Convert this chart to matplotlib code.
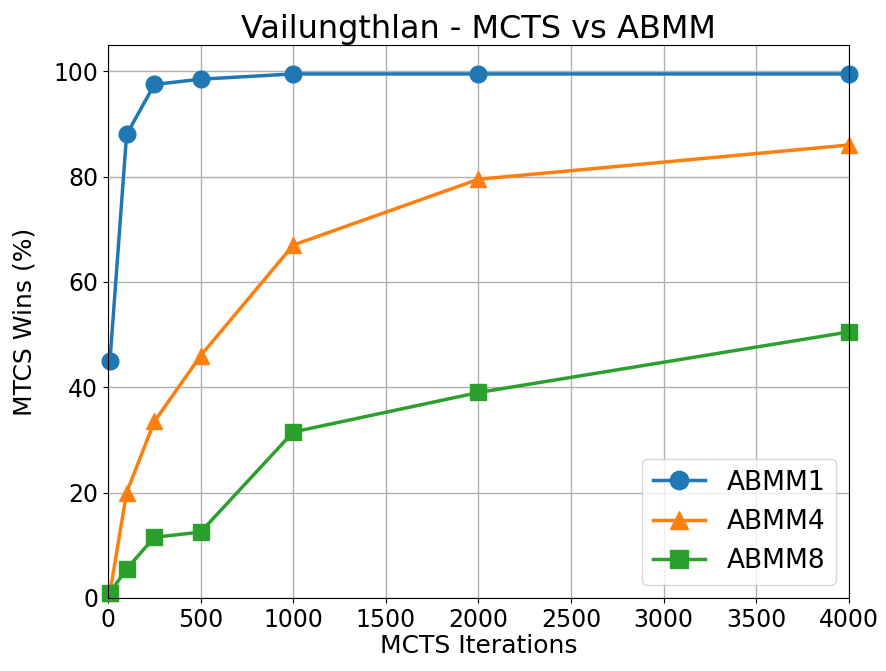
import numpy as np
from matplotlib import pyplot as plt

iterations = [10, 100, 250, 500, 1000, 2000, 4000]
abmm1 = [45, 88, 97.5, 98.5, 99.5, 99.5, 99.5]
abmm4 = [1, 20, 33.5, 46, 67, 79.5, 86]
abmm8 = [1, 5.5, 11.5, 12.5, 31.5, 39, 50.5]

fig = plt.figure(figsize=(8.86, 6.71), dpi=100)
ax = fig.add_axes([0.122, 0.109, 0.836, 0.824])

ax.plot(iterations, abmm1, "-o", lw=2.5, ms=12, label="ABMM1", clip_on=False)
ax.plot(iterations, abmm4, "-^", lw=2.5, ms=12, label="ABMM4", clip_on=False)
ax.plot(iterations, abmm8, "-s", lw=2.5, ms=12, label="ABMM8", clip_on=False)

ax.set_xlim(0, 4000)
ax.set_ylim(0, 105)
ax.set_xticks(np.arange(0, 4001, 500))
ax.set_yticks(np.arange(0, 101, 20))
ax.grid(True, color="#b0b0b0", lw=1)
ax.set_axisbelow(True)
ax.tick_params(labelsize=17)
ax.set_xlabel("MCTS Iterations", fontsize=18, labelpad=2)
ax.set_ylabel("MTCS Wins (%)", fontsize=18, labelpad=12)
ax.set_title("Vailungthlan - MCTS vs ABMM", fontsize=23, pad=5)
ax.legend(loc="lower right", fontsize=19, markerscale=1.1)

fig.savefig("out.png")
